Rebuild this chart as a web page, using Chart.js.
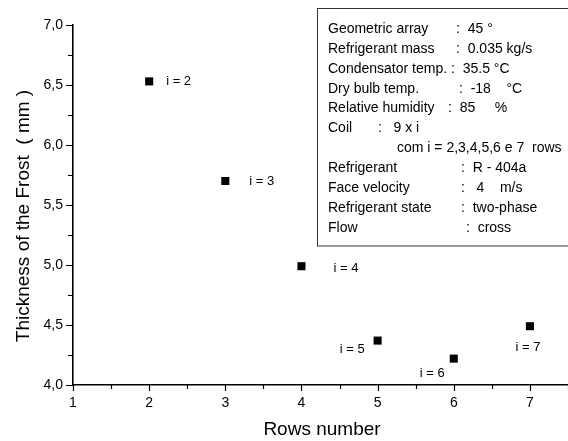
<!DOCTYPE html>
<html>
<head>
<meta charset="utf-8">
<script src="https://cdn.jsdelivr.net/npm/chart.js@4/dist/chart.umd.min.js"></script>
<style>
  html, body { margin: 0; padding: 0; background: #fff; }
  #wrap { width: 568px; height: 441px; }
</style>
</head>
<body>
<div id="wrap"><canvas id="frostChart" width="568" height="441"></canvas></div>
<script>
// Data
const rows = [2, 3, 4, 5, 6, 7];
const frostThickness = [6.53, 5.70, 4.99, 4.37, 4.22, 4.49];
const pointLabels = ['i = 2', 'i = 3', 'i = 4', 'i = 5', 'i = 6', 'i = 7'];
const xTitle = 'Rows number';
const yTitle = 'Thickness of the Frost  ( mm )';

// Text of the parameter box
const boxLabels = [
    'Geometric array', 'Refrigerant mass', 'Condensator temp.', 'Dry bulb temp.',
    'Relative humidity', 'Coil', '', 'Refrigerant', 'Face velocity',
    'Refrigerant state', 'Flow'
];
const boxValues = [
    ':  45 \u00b0', ':  0.035 kg/s', ':  35.5 \u00b0C', ':  -18    \u00b0C',
    ':  85     %', ':   9 x i', 'com i = 2,3,4,5,6 e 7  rows', ':  R - 404a',
    ':   4    m/s', ':  two-phase', ':  cross'
];

const FONT = '"Liberation Sans", Arial, sans-serif';

// label placement relative to each point: [dx, dy, align]
const labelPlacement = [
    [17, 0, 'left'], [24, 0, 'left'], [32, 2, 'left'],
    [-13, 9, 'right'], [-9, 15, 'right'], [-2, 21, 'center']
];
// left x of the colon/value column of each box line
const valueX = [456, 456, 451, 459, 448, 378, 397, 461, 461, 461, 466];

// let the x axis run to the right edge of the canvas, as in the original
const fullWidthX = {
    id: 'fullWidthX',
    afterLayout(chart) {
        const xs = chart.scales.x;
        xs.right = chart.width;
        xs.width = xs.right - xs.left;
        xs.configure();
        chart.chartArea.right = chart.width;
        chart.chartArea.width = chart.chartArea.right - chart.chartArea.left;
    }
};

const annotations = {
    id: 'annotations',
    afterDraw(chart) {
        const ctx = chart.ctx;
        const xs = chart.scales.x;
        const ys = chart.scales.y;
        const area = chart.chartArea;
        ctx.save();

        // tick marks (major and minor)
        ctx.strokeStyle = '#000';
        ctx.lineWidth = 1.2;
        ctx.beginPath();
        for (let v = 4; v <= 7.001; v += 0.25) {
            const major = Math.abs(v * 2 - Math.round(v * 2)) < 1e-6;
            const py = Math.round(ys.getPixelForValue(v)) + 0.5;
            ctx.moveTo(area.left - (major ? 7 : 5), py);
            ctx.lineTo(area.left, py);
        }
        for (let v = 1; v <= 7.501; v += 0.5) {
            const major = Math.abs(v - Math.round(v)) < 1e-6;
            const px = Math.round(xs.getPixelForValue(v)) + 0.5;
            ctx.moveTo(px, area.bottom);
            ctx.lineTo(px, area.bottom + (major ? 6 : 4));
        }
        ctx.stroke();

        // axis titles
        ctx.fillStyle = '#000';
        ctx.font = '19px ' + FONT;
        ctx.textAlign = 'center';
        ctx.textBaseline = 'middle';
        ctx.fillText(xTitle, 322, 430);
        ctx.save();
        ctx.translate(24, 216);
        ctx.rotate(-Math.PI / 2);
        ctx.fillText(yTitle, 0, 0);
        ctx.restore();

        // point labels
        ctx.font = '13px ' + FONT;
        rows.forEach((r, i) => {
            const px = xs.getPixelForValue(r);
            const py = ys.getPixelForValue(frostThickness[i]);
            const p = labelPlacement[i];
            ctx.textAlign = p[2];
            ctx.fillText(pointLabels[i], px + p[0], py + p[1]);
        });

        // parameter box
        ctx.fillStyle = '#fff';
        ctx.fillRect(318, 9, 260, 237);
        ctx.strokeStyle = '#333';
        ctx.lineWidth = 1;
        ctx.strokeRect(317.5, 8.5, 260, 237.5);
        ctx.fillStyle = '#000';
        ctx.font = '14px ' + FONT;
        ctx.textAlign = 'left';
        boxLabels.forEach((lab, i) => {
            const y = 29 + i * 19.9;
            if (lab) ctx.fillText(lab, 328, y);
            ctx.fillText(boxValues[i], valueX[i], y);
        });

        ctx.restore();
    }
};

new Chart(document.getElementById('frostChart'), {
    type: 'scatter',
    data: {
        datasets: [{
            data: rows.map((r, i) => ({ x: r, y: frostThickness[i] })),
            pointStyle: 'rect',
            pointRadius: 5.7,
            pointHoverRadius: 5.7,
            backgroundColor: '#000',
            borderWidth: 0
        }]
    },
    options: {
        responsive: false,
        animation: false,
        layout: { padding: { top: 25, right: 0, left: 0, bottom: 0 } },
        plugins: {
            legend: { display: false },
            tooltip: { enabled: false }
        },
        scales: {
            x: {
                type: 'linear',
                min: 1,
                max: 7.5,
                afterFit: (s) => { s.height = 56; },
                grid: { display: false, drawTicks: false },
                border: { display: true, color: '#000', width: 1.6 },
                ticks: {
                    stepSize: 1,
                    padding: 10,
                    color: '#000',
                    font: { family: FONT, size: 14 },
                    maxRotation: 0,
                    callback: (v) => (Number.isInteger(v) && v <= 7 ? String(v) : '')
                }
            },
            y: {
                min: 4,
                max: 7,
                afterFit: (s) => { s.width = 73; },
                grid: { display: false, drawTicks: false },
                border: { display: true, color: '#000', width: 1.6 },
                ticks: {
                    stepSize: 0.5,
                    padding: 10,
                    color: '#000',
                    font: { family: FONT, size: 14 },
                    callback: (v) => v.toFixed(1).replace('.', ',')
                }
            }
        }
    },
    plugins: [fullWidthX, annotations]
});
</script>
</body>
</html>
